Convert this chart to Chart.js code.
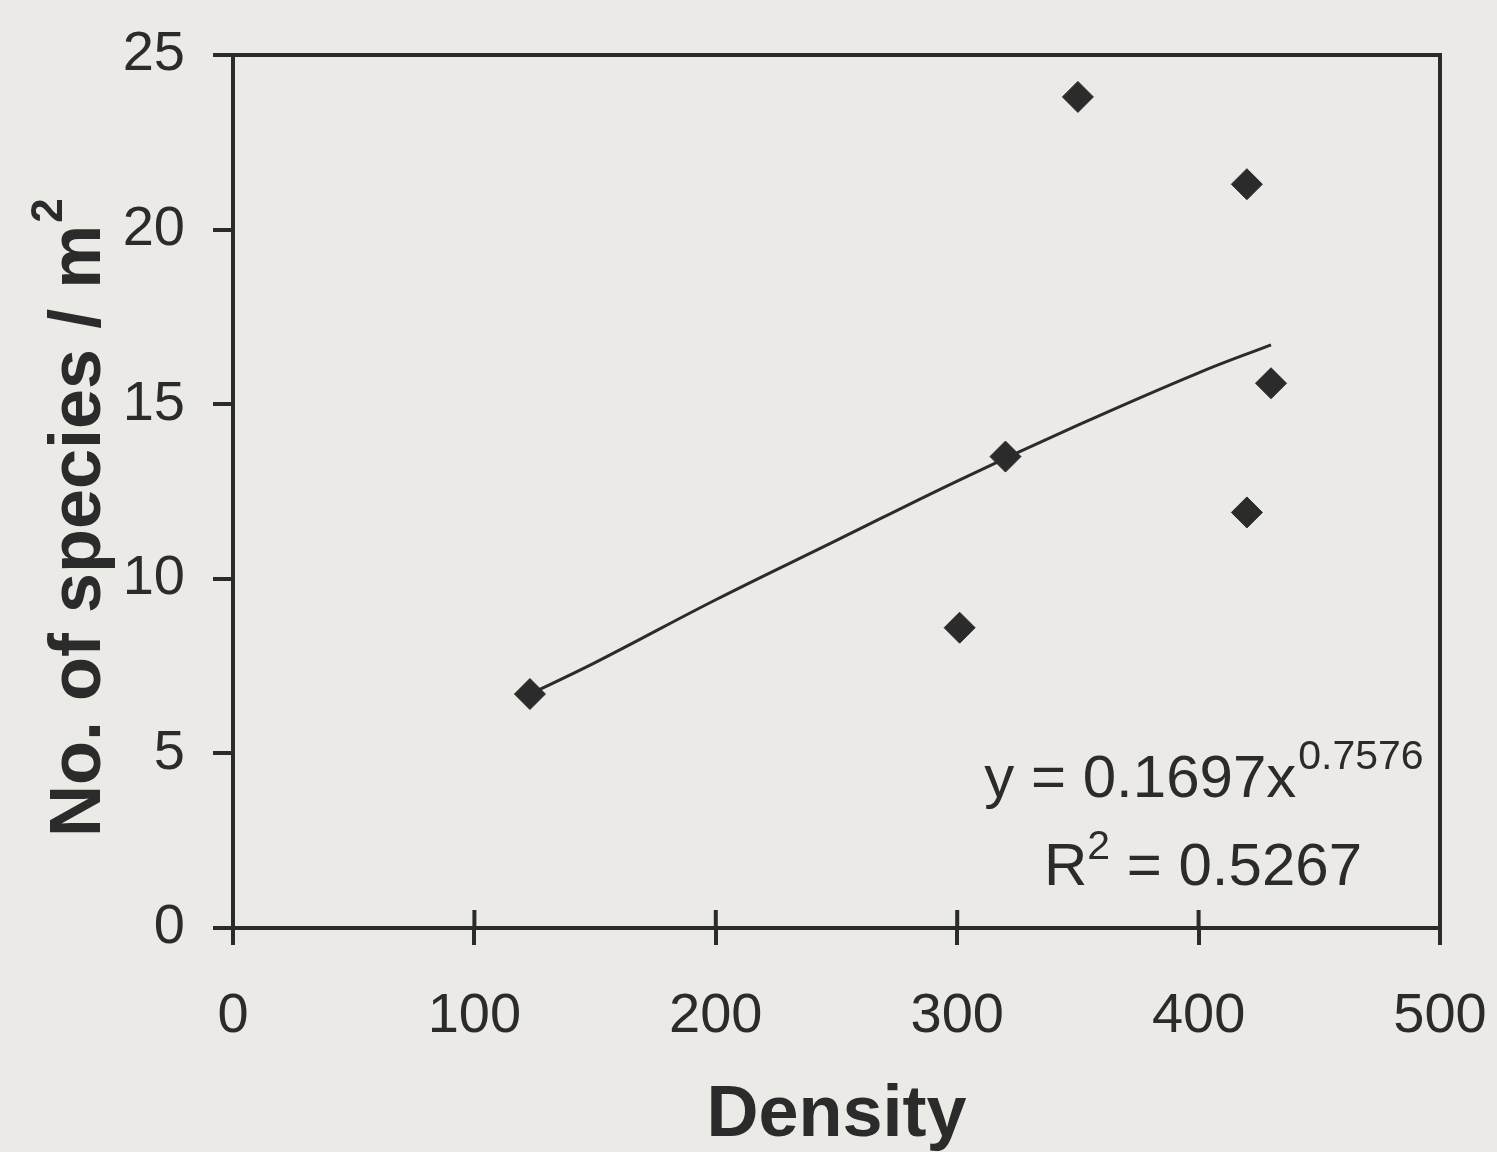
<!DOCTYPE html>
<html>
<head>
<meta charset="utf-8">
<script src="https://cdn.jsdelivr.net/npm/chart.js@4.4.1/dist/chart.umd.min.js"></script>
<style>
  html, body { margin: 0; padding: 0; background: #ebeae6; }
  #chart { display: block; }
</style>
</head>
<body>
<canvas id="chart" width="1497" height="1152"></canvas>
<script>
// observed points
const densityValues = [123, 301, 320, 350, 420, 420, 430];
const speciesValues = [6.7, 8.6, 13.5, 23.8, 21.3, 11.9, 15.6];

// fitted power trendline
const trendDensity = [120, 150, 200, 250, 300, 350, 400, 430];
const trendSpecies = [6.6, 7.6, 9.4, 11.1, 12.8, 14.4, 15.9, 16.7];

const xTicks = [0, 100, 200, 300, 400, 500];
const yTicks = [0, 5, 10, 15, 20, 25];

const yTitle = "No. of species / m";
const yTitleSup = "2";
const equationMain = "y = 0.1697x";
const equationExp = "0.7576";
const rSquaredValue = "0.5267";

const ink = "#2b2b2b";
const paper = "#ebeae6";
const fontFamily = "'Liberation Sans', Arial, Helvetica, sans-serif";

const toPoints = (xs, ys) => xs.map((x, i) => ({ x: x, y: ys[i] }));

// Canvas background, box, inner half of the x ticks, y title and equation.
const framePlugin = {
  id: "frame",
  beforeDraw: (chart) => {
    const { ctx } = chart;
    ctx.save();
    ctx.fillStyle = paper;
    ctx.fillRect(0, 0, chart.width, chart.height);
    ctx.restore();
  },
  afterDraw: (chart) => {
    const { ctx, chartArea } = chart;
    const xScale = chart.scales.x;
    ctx.save();
    ctx.strokeStyle = ink;
    ctx.lineWidth = 4;
    ctx.beginPath();
    ctx.moveTo(chartArea.left, chartArea.top);
    ctx.lineTo(chartArea.right, chartArea.top);
    ctx.lineTo(chartArea.right, chartArea.bottom);
    xTicks.forEach((v) => {
      const px = xScale.getPixelForValue(v);
      ctx.moveTo(px, chartArea.bottom);
      ctx.lineTo(px, chartArea.bottom - 18);
    });
    ctx.stroke();

    // y axis title with superscript
    ctx.fillStyle = ink;
    ctx.textBaseline = "alphabetic";
    ctx.textAlign = "left";
    ctx.save();
    ctx.translate(100, 837);
    ctx.rotate(-Math.PI / 2);
    ctx.font = "bold 72px " + fontFamily;
    const wt = ctx.measureText(yTitle).width;
    ctx.fillText(yTitle, 0, 0);
    ctx.font = "bold 44px " + fontFamily;
    ctx.fillText(yTitleSup, wt + 2, -38);
    ctx.restore();

    // equation label
    const cx = chartArea.right - 237;
    const mainFont = "60px " + fontFamily;
    const supFont = "41px " + fontFamily;

    ctx.font = mainFont;
    const w1 = ctx.measureText(equationMain).width;
    ctx.font = supFont;
    const w2 = ctx.measureText(equationExp).width;
    const x1 = cx - (w1 + w2) / 2;
    const b1 = chartArea.bottom - 131;
    ctx.font = mainFont;
    ctx.fillText(equationMain, x1, b1);
    ctx.font = supFont;
    ctx.fillText(equationExp, x1 + w1 + 2, b1 - 28);

    const rest = " = " + rSquaredValue;
    ctx.font = mainFont;
    const wr = ctx.measureText("R").width;
    const wRest = ctx.measureText(rest).width;
    ctx.font = supFont;
    const w2b = ctx.measureText("2").width;
    const x2 = cx - (wr + w2b + wRest) / 2;
    const b2 = chartArea.bottom - 43;
    ctx.font = mainFont;
    ctx.fillText("R", x2, b2);
    ctx.font = supFont;
    ctx.fillText("2", x2 + wr, b2 - 26);
    ctx.font = mainFont;
    ctx.fillText(rest, x2 + wr + w2b, b2);
    ctx.restore();
  },
};

const ctx = document.getElementById("chart").getContext("2d");
ctx.letterSpacing = "0px";

new Chart(ctx, {
  type: "scatter",
  data: {
    datasets: [
      {
        label: "Trend",
        type: "line",
        data: toPoints(trendDensity, trendSpecies),
        borderColor: ink,
        borderWidth: 3,
        pointRadius: 0,
        tension: 0.4,
        fill: false,
      },
      {
        label: "Species",
        data: toPoints(densityValues, speciesValues),
        backgroundColor: ink,
        borderColor: ink,
        borderWidth: 1,
        pointStyle: "rectRot",
        pointRadius: 15.5,
      },
    ],
  },
  options: {
    responsive: false,
    animation: false,
    layout: {
      padding: { top: 55, right: 57, left: 0, bottom: 0 },
    },
    plugins: {
      legend: { display: false },
      tooltip: { enabled: false },
    },
    scales: {
      x: {
        type: "linear",
        min: 0,
        max: 500,
        afterBuildTicks: (scale) => {
          scale.ticks = xTicks.map((v) => ({ value: v }));
        },
        afterFit: (scale) => {
          scale.height = 224;
          scale.paddingLeft = 0;
          scale.paddingRight = 0;
        },
        grid: {
          drawOnChartArea: false,
          tickLength: 17,
          lineWidth: 4,
          color: ink,
        },
        border: { display: true, color: ink, width: 4 },
        ticks: {
          padding: 38,
          color: ink,
          maxRotation: 0,
          font: { family: fontFamily, size: 56 },
        },
        title: {
          display: true,
          text: "Density",
          color: ink,
          padding: { top: 0, bottom: 0 },
          font: { family: fontFamily, size: 72, weight: "bold", lineHeight: 1 },
        },
      },
      y: {
        type: "linear",
        min: 0,
        max: 25,
        afterBuildTicks: (scale) => {
          scale.ticks = yTicks.map((v) => ({ value: v }));
        },
        afterFit: (scale) => {
          scale.width = 233;
          scale.paddingTop = 0;
          scale.paddingBottom = 0;
        },
        grid: {
          drawOnChartArea: false,
          tickLength: 20,
          lineWidth: 4,
          color: ink,
        },
        border: { display: true, color: ink, width: 4 },
        ticks: {
          padding: 28,
          color: ink,
          font: { family: fontFamily, size: 56 },
        },
        title: { display: false },
      },
    },
  },
  plugins: [framePlugin],
});
</script>
</body>
</html>
